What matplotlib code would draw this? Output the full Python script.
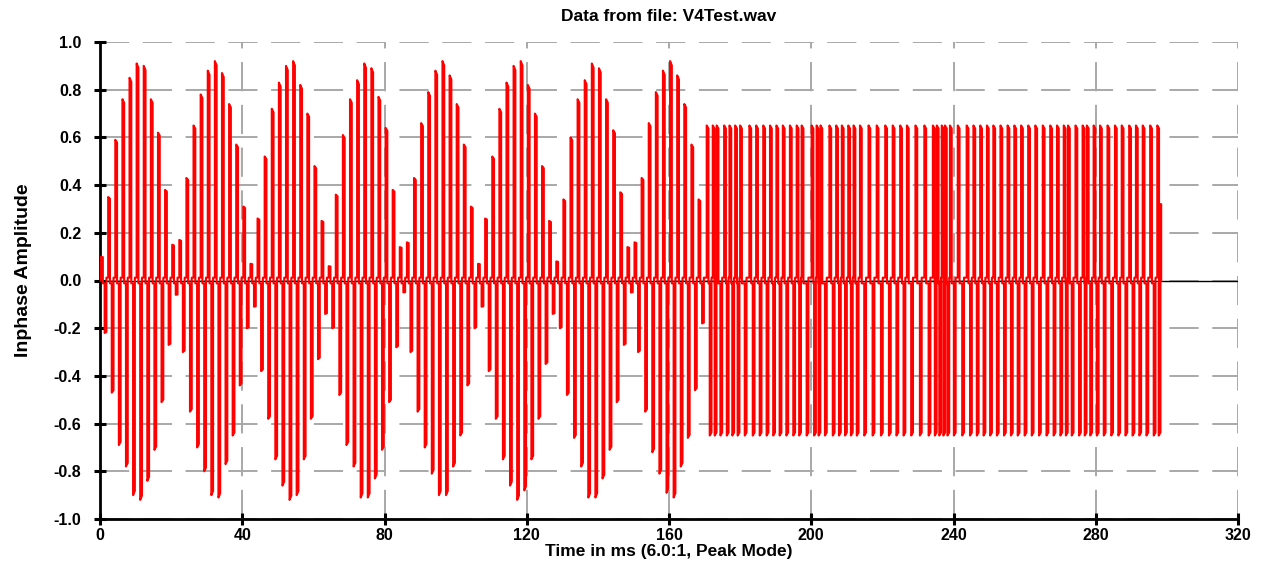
import numpy as np
import matplotlib
matplotlib.use("Agg")
import matplotlib.pyplot as plt

# --- data (peak mode display, one up/down pair per cycle) ---
# tone burst section: cycle peaks every 2 ms starting at 0.3 ms
burst_start_ms = 0.3
burst_step_ms = 2.0
burst_hi = [0.10, 0.35, 0.59, 0.76, 0.85, 0.91, 0.90, 0.76, 0.62, 0.38,
            0.15, 0.17, 0.43, 0.65, 0.78, 0.88, 0.92, 0.87, 0.74, 0.57,
            0.31, 0.07, 0.26, 0.52, 0.72, 0.83, 0.90, 0.92, 0.82, 0.70,
            0.48, 0.25, 0.06, 0.36, 0.61, 0.76, 0.84, 0.91, 0.89, 0.77,
            0.64, 0.38, 0.14, 0.16, 0.43, 0.66, 0.79, 0.88, 0.92, 0.86,
            0.74, 0.57, 0.31, 0.07, 0.26, 0.52, 0.72, 0.83, 0.90, 0.92,
            0.82, 0.70, 0.48, 0.25, 0.08, 0.34, 0.60, 0.76, 0.84, 0.91,
            0.89, 0.76, 0.63, 0.37, 0.14, 0.16, 0.43, 0.66, 0.79, 0.88,
            0.92, 0.86, 0.74, 0.57, 0.34]
burst_lo = [-0.22, -0.47, -0.69, -0.78, -0.90, -0.92, -0.84, -0.71, -0.51, -0.27,
            -0.06, -0.30, -0.55, -0.70, -0.80, -0.90, -0.91, -0.77, -0.65, -0.44,
            -0.20, -0.11, -0.38, -0.58, -0.75, -0.86, -0.92, -0.90, -0.75, -0.58,
            -0.33, -0.14, -0.20, -0.48, -0.69, -0.78, -0.91, -0.91, -0.83, -0.71,
            -0.51, -0.28, -0.05, -0.30, -0.55, -0.70, -0.81, -0.90, -0.90, -0.78,
            -0.65, -0.44, -0.20, -0.11, -0.38, -0.58, -0.75, -0.86, -0.92, -0.88,
            -0.75, -0.58, -0.35, -0.14, -0.20, -0.48, -0.66, -0.78, -0.91, -0.91,
            -0.83, -0.71, -0.51, -0.27, -0.05, -0.30, -0.55, -0.72, -0.81, -0.89,
            -0.91, -0.78, -0.66, -0.46, -0.18]

# square section: times (ms) of the +0.65 strokes, the -0.65 stroke sits between two of them
square_top_ms = [170.6, 172.3, 173.4, 175.5, 177.0, 178.6, 180.0, 182.6, 184.5, 186.5,
                 188.4, 190.2, 192.0, 194.0, 195.9, 197.3, 200.1, 201.5, 202.6, 205.1,
                 207.0, 208.6, 210.4, 211.9, 213.7, 216.1, 218.4, 220.8, 222.9, 225.0,
                 226.9, 229.3, 231.8, 234.2, 235.3, 236.7, 237.6, 239.0, 241.2, 243.7,
                 245.6, 247.5, 249.4, 251.2, 253.2, 255.2, 257.1, 259.0, 261.0, 263.0,
                 265.1, 267.2, 269.1, 271.0, 272.2, 274.3, 276.3, 277.5, 279.4, 281.2,
                 283.3, 285.4, 287.3, 289.4, 291.3, 293.2, 295.3, 297.3]
square_hi = 0.65
square_lo = -0.65
end_ms = [298.1]
end_val = [0.32]

ripple = 0.012
hold = 0.5


def stroke(t, v, sign):
    # vertical stroke from ~0 to v, held one pixel, back to ~0
    return [t, t, t + hold, t + hold], [sign * ripple, v, v * 0.98, -sign * ripple]


xs, ys = [0.0], [0.0]
for i, (hi, lo) in enumerate(zip(burst_hi, burst_lo)):
    t = burst_start_ms + i * burst_step_ms
    for tt, v, sg in [(t, hi, 1), (t + 1.0, lo, -1)]:
        sx, sy = stroke(tt, v, sg)
        xs += sx
        ys += sy
nxt = square_top_ms[1:] + end_ms
for t, tn in zip(square_top_ms, nxt):
    for tt, v, sg in [(t, square_hi, 1), ((t + tn) / 2, square_lo, -1)]:
        sx, sy = stroke(tt, v, sg)
        xs += sx
        ys += sy
xs += [end_ms[0], end_ms[0], end_ms[0] + 0.3, end_ms[0] + 0.3]
ys += [0.0, end_val[0], end_val[0], 0.0]

plt.rcParams['font.family'] = ['Liberation Sans Narrow', 'Liberation Sans', 'DejaVu Sans']

fig = plt.figure(figsize=(12.67, 5.67), dpi=100)
ax = fig.add_axes([100 / 1267, 1 - 519 / 567, 1138 / 1267, 477 / 567])

ax.axhline(0, color='black', lw=1.0, zorder=2)
ax.plot(xs, ys, color='#ff0000', lw=1.5, zorder=3)

yticks = np.round(np.arange(-1.0, 1.01, 0.2), 1)
ax.set_xlim(0, 320)
ax.set_ylim(-1.0, 1.0)
ax.set_xticks(np.arange(0, 321, 40))
ax.set_yticks(yticks)
ax.set_yticklabels([f"{v:.1f}".replace("-0.0", "0.0") for v in yticks])
ax.grid(True, color='#a8a8a8', lw=1.4, linestyle=(0, (15, 7)), zorder=1)
ax.set_axisbelow(True)

for s in ['top', 'right']:
    ax.spines[s].set_visible(False)
for s in ['left', 'bottom']:
    ax.spines[s].set_linewidth(2.0)
ax.tick_params(direction='inout', length=9, width=2.2, labelsize=11.5)
ax.tick_params(axis='y', pad=9)
ax.tick_params(axis='x', pad=2)
for lab in ax.get_xticklabels() + ax.get_yticklabels():
    lab.set_fontweight('bold')

ax.set_title("Data from file: V4Test.wav", fontsize=12.5, fontweight='bold', pad=15)
ax.set_xlabel("Time in ms (6.0:1, Peak Mode)", fontsize=12.5, fontweight='bold', labelpad=1)
ax.set_ylabel("Inphase Amplitude", fontsize=14, fontweight='bold')
ax.yaxis.set_label_coords(-0.060, 0.522)

fig.savefig("out.png", dpi=100)
